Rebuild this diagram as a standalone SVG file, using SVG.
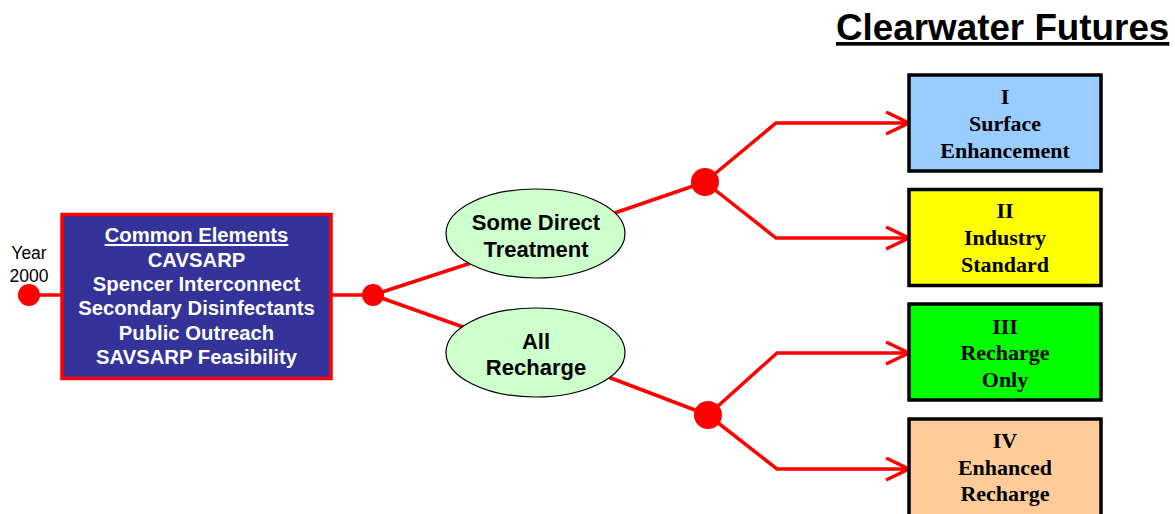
<svg xmlns="http://www.w3.org/2000/svg" width="1175" height="514" viewBox="0 0 1175 514">
<style>
.conn{stroke:#FF0000;stroke-width:3.5;fill:none;stroke-linejoin:miter}
.dot{fill:#FF0000}
.wt{font-family:"Liberation Sans",Arial,sans-serif;font-weight:bold;font-size:20.3px;fill:#FFFFFF;text-anchor:middle}
.et{font-family:"Liberation Sans",Arial,sans-serif;font-weight:bold;font-size:22px;fill:#000000;text-anchor:middle}
.bt{font-family:"Liberation Serif","Times New Roman",serif;font-weight:bold;font-size:22px;fill:#000000;text-anchor:middle}
.fut{stroke:#000000;stroke-width:3.5}
.ell{fill:#CCFFCC;stroke:#000000;stroke-width:1.2}
</style>
<defs>
<marker id="arr" markerWidth="30" markerHeight="30" refX="24" refY="12" orient="auto" markerUnits="userSpaceOnUse">
<path d="M1,1 L24,12 L1,23" fill="none" stroke="#FF0000" stroke-width="3.5"/>
</marker>
</defs>
<rect width="1175" height="514" fill="#FFFFFF"/>

<g id="title">
<text x="836" y="40" font-family="'Liberation Sans',Arial,sans-serif" font-weight="bold" font-size="36.8" text-decoration="underline" fill="#000000">Clearwater Futures</text>
</g>

<g id="connectors">
<line class="conn" x1="29" y1="295" x2="62" y2="295"/>
<line class="conn" x1="331" y1="295" x2="373" y2="295"/>
<line class="conn" x1="373" y1="295" x2="480" y2="260"/>
<line class="conn" x1="373" y1="295" x2="480" y2="333"/>
<line class="conn" x1="600" y1="218" x2="705" y2="182"/>
<line class="conn" x1="595" y1="372" x2="708" y2="415"/>
<polyline class="conn" points="705,182 776,123 909,123" marker-end="url(#arr)"/>
<polyline class="conn" points="705,182 776,238 909,238" marker-end="url(#arr)"/>
<polyline class="conn" points="708,415 777,353 909,353" marker-end="url(#arr)"/>
<polyline class="conn" points="708,415 777,469 909,469" marker-end="url(#arr)"/>
</g>

<g id="start">
<circle class="dot" cx="29" cy="295" r="11"/>
<text x="29" y="259" font-family="'Liberation Sans',Arial,sans-serif" font-size="17.5" text-anchor="middle" fill="#000000">Year</text>
<text x="29" y="282" font-family="'Liberation Sans',Arial,sans-serif" font-size="17.5" text-anchor="middle" fill="#000000">2000</text>
</g>

<g id="common">
<rect x="62" y="214.5" width="269" height="164" fill="#333399" stroke="#FF0000" stroke-width="3.5"/>
<text class="wt" x="196.5" y="242" text-decoration="underline">Common Elements</text>
<text class="wt" x="196.5" y="266.5">CAVSARP</text>
<text class="wt" x="196.5" y="290.5">Spencer Interconnect</text>
<text class="wt" x="196.5" y="315">Secondary Disinfectants</text>
<text class="wt" x="196.5" y="339.5">Public Outreach</text>
<text class="wt" x="196.5" y="364">SAVSARP Feasibility</text>
</g>

<g id="junction1"><circle class="dot" cx="373" cy="295" r="11"/></g>
<g id="junction2"><circle class="dot" cx="705" cy="182" r="14"/></g>
<g id="junction3"><circle class="dot" cx="708" cy="415" r="14"/></g>

<g id="direct">
<ellipse class="ell" cx="535.5" cy="233.5" rx="89.5" ry="44.5"/>
<text class="et" x="536" y="230">Some Direct</text>
<text class="et" x="536" y="257">Treatment</text>
</g>

<g id="recharge">
<ellipse class="ell" cx="535.5" cy="352.5" rx="89.5" ry="44.5"/>
<text class="et" x="536" y="349">All</text>
<text class="et" x="536" y="375">Recharge</text>
</g>

<g id="future1">
<rect class="fut" x="909" y="75" width="192" height="96" fill="#99CCFF"/>
<text class="bt" x="1005" y="104">I</text>
<text class="bt" x="1005" y="131">Surface</text>
<text class="bt" x="1005" y="158">Enhancement</text>
</g>

<g id="future2">
<rect class="fut" x="909" y="189.5" width="192" height="96" fill="#FFFF00"/>
<text class="bt" x="1005" y="218">II</text>
<text class="bt" x="1005" y="245">Industry</text>
<text class="bt" x="1005" y="272">Standard</text>
</g>

<g id="future3">
<rect class="fut" x="909" y="304" width="192" height="96" fill="#00FF00"/>
<text class="bt" x="1005" y="334">III</text>
<text class="bt" x="1005" y="360">Recharge</text>
<text class="bt" x="1005" y="387">Only</text>
</g>

<g id="future4">
<rect class="fut" x="909" y="419" width="192" height="110" fill="#FFCC99"/>
<text class="bt" x="1005" y="448">IV</text>
<text class="bt" x="1005" y="475">Enhanced</text>
<text class="bt" x="1005" y="501">Recharge</text>
</g>
</svg>
